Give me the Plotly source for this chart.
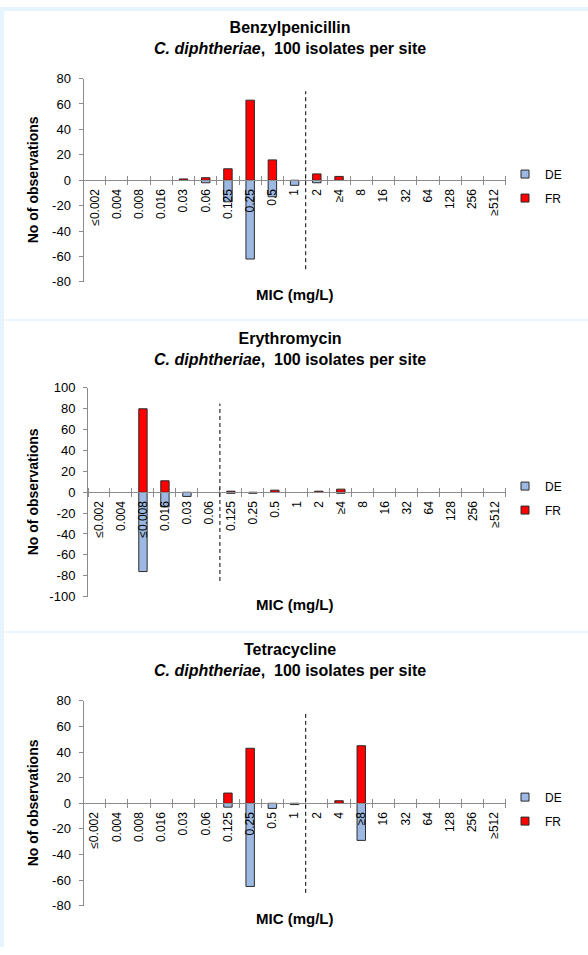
import plotly.graph_objects as go

W, H = 588, 955

# ---------------- data ----------------
cats_pen = ["≤0.002", "0.004", "0.008", "0.016", "0.03", "0.06", "0.125", "0.25", "0.5", "1",
            "2", "≥4", "8", "16", "32", "64", "128", "256", "≥512"]
de_pen = [0, 0, 0, 0, 0, -2, -17, -62, -13, -4, -2, 0, 0, 0, 0, 0, 0, 0, 0]
fr_pen = [0, 0, 0, 0, 1, 2, 9, 63, 16, 0, 5, 3, 0, 0, 0, 0, 0, 0, 0]

cats_ery = ["≤0.002", "0.004", "≤0.008", "0.016", "0.03", "0.06", "0.125", "0.25", "0.5", "1",
            "2", "≥4", "8", "16", "32", "64", "128", "256", "≥512"]
de_ery = [0, 0, -76, -14, -4, 0, -1, -1, 0, 0, 0, -1, 0, 0, 0, 0, 0, 0, 0]
fr_ery = [0, 0, 80, 11, 0, 0, 1, 0, 2, 0, 1, 3, 0, 0, 0, 0, 0, 0, 0]

cats_tet = ["≤0.002", "0.004", "0.008", "0.016", "0.03", "0.06", "0.125", "0.25", "0.5", "1",
            "2", "4", "≥8", "16", "32", "64", "128", "256", "≥512"]
de_tet = [0, 0, 0, 0, 0, 0, -3, -65, -4, -1, 0, 0, -29, 0, 0, 0, 0, 0, 0]
fr_tet = [0, 0, 0, 0, 0, 0, 8, 43, 0, 0, 0, 2, 45, 0, 0, 0, 0, 0, 0]

titles = ["Benzylpenicillin", "Erythromycin", "Tetracycline"]
subtitle = "<i>C. diphtheriae</i>,  100 isolates per site"
series_names = ["DE", "FR"]
breakpoints = ["1", "0.06", "1"]          # breakpoint line drawn after this category
breakpoint_extent = [70, 85, 70]
y_limits = [80, 100, 80]

# ---------------- styling ----------------
FONT = "Liberation Sans, Arial, sans-serif"
DE_COL = "#9DB9E3"
FR_COL = "#FF0000"
EDGE = "#2b2b2b"
AXIS = "#8C8C8C"
BG_STRIP = "#E6F4FD"

# pixel layout for each panel
layouts = [
    dict(l=83.5, r=505.7, t=72.7, b=279.3, ty=31.0, my=292),
    dict(l=88.0, r=505.7, t=387.0, b=599.0, ty=347.5, my=607),
    dict(l=83.5, r=505.7, t=705.0, b=913.0, ty=663.0, my=926),
]

data = [
    (cats_pen, de_pen, fr_pen),
    (cats_ery, de_ery, fr_ery),
    (cats_tet, de_tet, fr_tet),
]


def px_x(p):
    return p / W


def px_y(p):
    return 1 - p / H


fig = go.Figure()
layout_upd = {}
shapes = []
annotations = []

for i, ((cats, de, fr), lay) in enumerate(zip(data, layouts)):
    k = i + 1
    xs = "" if k == 1 else str(k)
    xname = f"x{xs}"
    yname = f"y{xs}"
    ov = str(k + 3)
    legname = "legend" if k == 1 else f"legend{k}"
    n = len(cats)

    for name, vals, col in ((series_names[0], de, DE_COL), (series_names[1], fr, FR_COL)):
        fig.add_trace(go.Bar(
            x=cats, y=[v if v != 0 else None for v in vals], name=name,
            marker=dict(color=col, line=dict(color=EDGE, width=1)),
            width=0.38, xaxis=xname, yaxis=yname, showlegend=False,
        ))
    # legend entries
    for name, col in ((series_names[0], DE_COL), (series_names[1], FR_COL)):
        fig.add_trace(go.Scatter(
            x=[None], y=[None], mode="markers", name=name,
            marker=dict(symbol="square", size=8, color=col, line=dict(color=EDGE, width=1)),
            xaxis=xname, yaxis=yname, legend=legname, legendgroup=f"{k}{name}",
        ))
    # overlay axis for upper half of crossing ticks
    fig.add_trace(go.Scatter(x=[None], y=[None], xaxis=f"x{ov}", yaxis=yname,
                             showlegend=False, hoverinfo="skip"))

    ymax = y_limits[i]
    zero_px = (lay["t"] + lay["b"]) / 2
    xdom = [px_x(lay["l"]), px_x(lay["r"])]
    ydom = [px_y(lay["b"]), px_y(lay["t"])]

    layout_upd[f"xaxis{xs}"] = dict(
        type="category", categoryorder="array", categoryarray=cats,
        range=[-0.5, n - 0.5], domain=xdom, anchor="free", position=px_y(zero_px),
        side="bottom", showline=True, linecolor=AXIS, linewidth=1,
        ticks="outside", ticklen=4, tickcolor=AXIS, tickson="boundaries",
        ticklabelstandoff=3,
        tickangle=-90, tickfont=dict(size=12, color="#000", family=FONT),
        showgrid=False, zeroline=False, fixedrange=True,
    )
    layout_upd[f"xaxis{ov}"] = dict(
        type="linear", overlaying=xname, range=[-0.5, n - 0.5], domain=xdom,
        anchor="free", position=px_y(zero_px), side="top",
        tickmode="array", tickvals=[j - 0.5 for j in range(n + 1)],
        ticks="outside", ticklen=4, tickcolor=AXIS, showticklabels=False,
        showline=False, showgrid=False, zeroline=False,
    )
    tv = list(range(-ymax, ymax + 1, 20))
    layout_upd[f"yaxis{xs}"] = dict(
        range=[-ymax, ymax], domain=ydom, anchor=xname,
        tickmode="array", tickvals=tv, ticktext=[str(v) for v in tv],
        ticks="outside", ticklen=4, tickcolor=AXIS, showline=True, linecolor=AXIS,
        linewidth=1, tickfont=dict(size=13, color="#000", family=FONT),
        ticklabelstandoff=5,
        showgrid=False, zeroline=False,
    )
    layout_upd[legname] = dict(
        x=px_x(505), xanchor="left", y=px_y(zero_px - 21), yanchor="top",
        bgcolor="rgba(0,0,0,0)", font=dict(size=12, family=FONT, color="#000"),
        traceorder="grouped", tracegroupgap=5,
    )

    bp = cats.index(breakpoints[i]) + 0.5
    shapes.append(dict(type="line", xref=xname, yref=yname, x0=bp, x1=bp,
                       y0=-breakpoint_extent[i], y1=breakpoint_extent[i],
                       line=dict(color="#000", width=1, dash="4px,3px")))

    annotations.append(dict(
        text=f"<b>{titles[i]}</b><br><b>{subtitle}</b>", x=px_x(290), y=px_y(lay["ty"]),
        xref="paper", yref="paper", xanchor="center", yanchor="middle", showarrow=False,
        font=dict(size=16, family=FONT, color="#000"),
    ))
    annotations.append(dict(
        text="<b>MIC (mg/L)</b>", x=px_x(294), y=px_y(lay["my"]), xref="paper", yref="paper",
        xanchor="center", yanchor="middle", showarrow=False,
        font=dict(size=15, family=FONT, color="#000"),
    ))
    annotations.append(dict(
        text="<b>No of observations</b>", x=px_x(33), y=px_y(zero_px), xref="paper", yref="paper",
        xanchor="center", yanchor="middle", showarrow=False, textangle=-90,
        font=dict(size=14, family=FONT, color="#000"),
    ))

# background frame strips and panel separators
shapes.append(dict(type="rect", xref="paper", yref="paper", x0=0, x1=px_x(4), y0=0, y1=1,
                   fillcolor=BG_STRIP, line=dict(width=0), layer="below"))
shapes.append(dict(type="rect", xref="paper", yref="paper", x0=0, x1=1, y0=px_y(4), y1=1,
                   fillcolor=BG_STRIP, line=dict(width=0), layer="below"))
for sep in (318, 635):
    shapes.append(dict(type="line", xref="paper", yref="paper", x0=px_x(4), x1=1,
                       y0=px_y(sep), y1=px_y(sep), line=dict(color=BG_STRIP, width=1.5),
                       layer="below"))

fig.update_layout(
    width=W, height=H, margin=dict(l=0, r=0, t=0, b=0),
    paper_bgcolor="white", plot_bgcolor="rgba(0,0,0,0)",
    barmode="relative", bargap=0.6,
    font=dict(family=FONT, color="#000"),
    shapes=shapes, annotations=annotations,
    **layout_upd,
)

fig.write_html(
    "out.html",
    config={"displayModeBar": False},
    post_script="document.body.style.margin='0';document.body.style.overflow='hidden';",
)
